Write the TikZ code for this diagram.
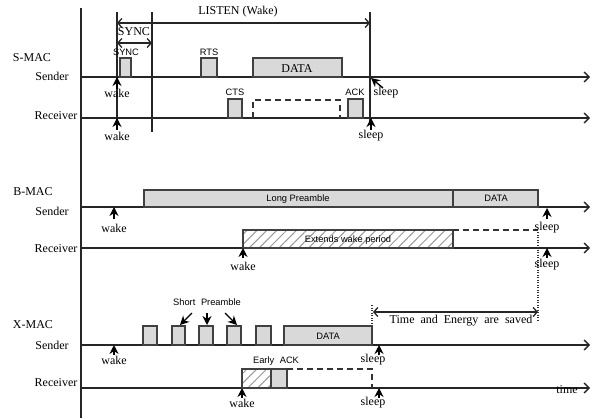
\documentclass[tikz,border=0pt]{standalone}
\usepackage{fontspec}
\setmainfont{Liberation Serif}
\setsansfont{Liberation Sans}
\usetikzlibrary{arrows.meta,patterns.meta}
\tikzset{
  ln/.style={line width=1.2pt,draw=black!85},
  axisarrow/.style={line width=1.2pt,draw=black!85,-{Straight Barb[length=5pt,width=10pt,line width=1.3pt]}},
  dblarrow/.style={line width=1.2pt,draw=black!85,{Straight Barb[length=4pt,width=9pt,line width=1.3pt]}-{Straight Barb[length=4pt,width=9pt,line width=1.3pt]}},
  uparrow/.style={line width=1.4pt,-{Stealth[length=9pt,width=9pt]}},
  graybox/.style={draw=black!75,line width=1.2pt,fill=black!15},
  hatchbox/.style={draw=black!75,line width=1.2pt,pattern={Lines[angle=45,distance=7pt,line width=1pt]},pattern color=black!40},
  dashbox/.style={draw=black!80,line width=1.4pt,dash pattern=on 6pt off 4pt},
  dotline/.style={draw=black!80,line width=1.4pt,dash pattern=on 1pt off 1.5pt},
  lbl/.style={font=\fontsize{12}{14}\selectfont,inner sep=0pt},
  sl/.style={font=\sffamily\fontsize{9.3}{11}\selectfont,inner sep=0pt},
}
\begin{document}
\begin{tikzpicture}[x=1pt,y=-1pt]
\useasboundingbox (0,0) rectangle (594,418);
\fill[white] (0,0) rectangle (594,418);
% main vertical axis
\draw[ln] (81,8) -- (81,418);
% time lines
\coordinate (s1a) at (81,77);  \coordinate (s1b) at (590,77);
\coordinate (r1a) at (81,118); \coordinate (r1b) at (590,118);
\coordinate (s2a) at (81,207); \coordinate (s2b) at (590,207);
\coordinate (r2a) at (81,248); \coordinate (r2b) at (590,248);
\coordinate (s3a) at (81,345); \coordinate (s3b) at (590,345);
\coordinate (r3a) at (81,388); \coordinate (r3b) at (590,388);
\foreach \a/\b in {s1a/s1b,r1a/r1b,s2a/s2b,r2a/r2b,s3a/s3b,r3a/r3b}
  \draw[axisarrow] (\a) -- (\b);
% row labels
\node[lbl] (smac) at (32,58) {S-MAC};
\node[lbl] (snd1) at (52,76) {Sender};
\node[lbl] (rcv1) at (56,116) {Receiver};
\node[lbl] (bmac) at (33,192) {B-MAC};
\node[lbl] (snd2) at (52,211) {Sender};
\node[lbl] (rcv2) at (56,249) {Receiver};
\node[lbl] (xmac) at (33,325) {X-MAC};
\node[lbl] (snd3) at (52,345) {Sender};
\node[lbl] (rcv3) at (56,383) {Receiver};

% ================= S-MAC =================
\coordinate (v1t) at (117,12); \coordinate (v1b) at (117,130);
\coordinate (v2t) at (152,12); \coordinate (v2b) at (152,132);
\coordinate (v3t) at (370,12); \coordinate (v3b) at (370,124);
\draw[ln] (v1t) -- (v1b);
\draw[ln] (v2t) -- (v2b);
\draw[ln] (v3t) -- (v3b);
\coordinate (lisL) at (117,23); \coordinate (lisR) at (370,23);
\draw[dblarrow] (lisL) -- (lisR);
\node[lbl] (listen) at (238,12) {LISTEN (Wake)};
\coordinate (syL) at (117,43); \coordinate (syR) at (152,43);
\draw[dblarrow] (syL) -- (syR);
\node[lbl] (synctop) at (134,32) {SYNC};
% sender boxes
\draw[graybox] (120,58) rectangle (131,77);
\node[sl] (syncl) at (126,52) {SYNC};
\draw[graybox] (201,58) rectangle (217,77);
\node[sl] (rtsl) at (209,52) {RTS};
\draw[graybox] (253,58) rectangle (342,77);
\node[lbl] (data1) at (297,69) {DATA};
% receiver boxes
\draw[graybox] (228,99) rectangle (242,118);
\node[sl] (ctsl) at (235,92) {CTS};
\draw[dashbox] (253,118) -- (253,100) -- (340,100) -- (340,118);
\draw[graybox] (348,99) rectangle (363,118);
\node[sl] (ackl) at (355,92) {ACK};
% wake / sleep
\node[lbl] (wk1s) at (117,93) {wake};
\node[lbl] (wk1r) at (117,136) {wake};
\draw[uparrow] (117,89) -- (117,77);
\draw[uparrow] (117,130) -- (117,118);
\node[lbl] (sl1s) at (386,93) {sleep};
\node[lbl] (sl1r) at (371,136) {sleep};
\draw[uparrow] (383,88) -- (371,78);
\draw[uparrow] (371,130) -- (371,118);

% ================= B-MAC =================
\draw[graybox] (144,190) rectangle (453,207);
\node[sl] (lpre) at (298,199) {Long Preamble};
\draw[graybox] (453,190) rectangle (538,207);
\node[sl] (data2) at (496,198) {DATA};
\draw[hatchbox] (243,230) rectangle (453,248);
\node[sl] (ext) at (348,240) {Extends wake period};
\draw[dashbox] (453,230) -- (538,230);
\draw[dotline] (538,232) -- (538,322);
\node[lbl] (wk2s) at (114,228) {wake};
\draw[uparrow] (114,219) -- (114,207);
\node[lbl] (wk2r) at (243,266) {wake};
\draw[uparrow] (243,258) -- (243,248);
\node[lbl] (sl2s) at (547,228) {sleep};
\draw[uparrow] (547,219) -- (547,208);
\node[lbl] (sl2r) at (547,265) {sleep};
\draw[uparrow] (547,258) -- (547,248);

% ================= X-MAC =================
\draw[dotline] (372,305) -- (372,345);
\coordinate (tsL) at (373,312); \coordinate (tsR) at (538,312);
\draw[dblarrow] (tsL) -- (tsR);
\node[lbl] (saved) at (461,321) {Time\hspace{3pt} and\hspace{3pt} Energy\hspace{3pt} are\hspace{3pt} saved};
\foreach \xa/\xb in {143/157,172/185,199/213,227/241,256/271}
  \draw[graybox] (\xa,326) rectangle (\xb,345);
\draw[graybox] (284,326) rectangle (372,345);
\node[sl] (data3) at (328,336) {DATA};
\node[sl] (spre) at (207,302) {Short\hspace{3pt} Preamble};
\draw[uparrow] (192,313) -- (180,325);
\draw[uparrow] (207,313) -- (207,325);
\draw[uparrow] (225,313) -- (237,325);
% receiver
\draw[hatchbox] (242,369) rectangle (271,388);
\draw[graybox] (271,369) rectangle (287,388);
\node[sl] (eack) at (276,361) {Early\hspace{3pt} ACK};
\draw[dashbox] (287,369) -- (372,369) -- (372,388);
\node[lbl] (wk3s) at (114,360) {wake};
\draw[uparrow] (114,355) -- (114,345);
\node[lbl] (wk3r) at (242,403) {wake};
\draw[uparrow] (242,398) -- (242,388);
\node[lbl] (sl3s) at (373,360) {sleep};
\draw[uparrow] (379,355) -- (379,345);
\node[lbl] (sl3r) at (373,403) {sleep};
\draw[uparrow] (379,398) -- (379,388);
\node[lbl] (timel) at (567,390) {time};
\end{tikzpicture}
\end{document}
